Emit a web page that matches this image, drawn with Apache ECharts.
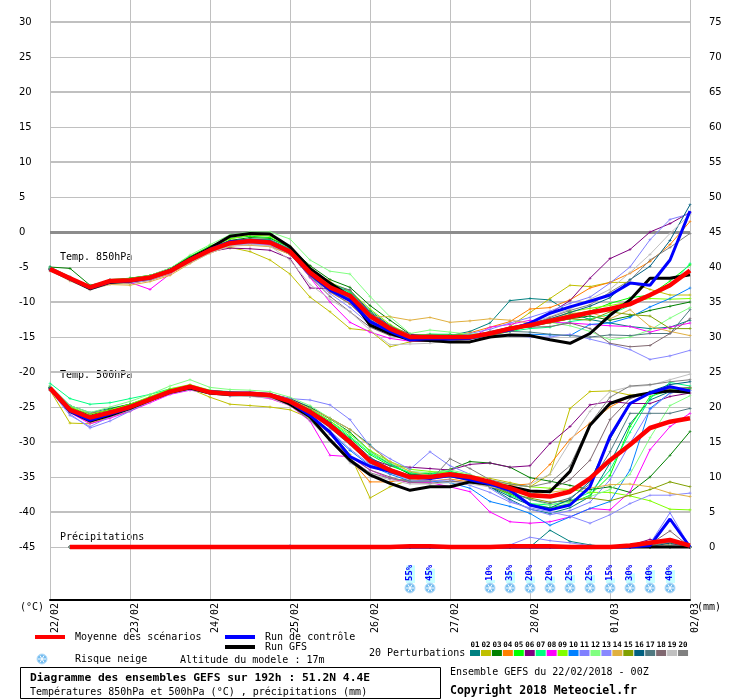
<!DOCTYPE html>
<html>
<head>
<meta charset="utf-8">
<script src="https://cdn.jsdelivr.net/npm/echarts@6.0.0/dist/echarts.min.js"></script>
<style>
  html, body { margin: 0; padding: 0; background: #fff; }
  #chart { width: 740px; height: 700px; }
</style>
</head>
<body>
<div id="chart"></div>
<script>
// time steps (hours from 22/02 00Z)
const hours = [0,6,12,18,24,30,36,42,48,54,60,66,72,78,84,90,96,102,108,114,120,126,132,138,144,150,156,162,168,174,180,186,192];
const dayLabels = ['22/02','23/02','24/02','25/02','26/02','27/02','28/02','01/03','02/03'];
const tempTicks = [-45,-40,-35,-30,-25,-20,-15,-10,-5,0,5,10,15,20,25,30];
const precipTicks = [0,5,10,15,20,25,30,35,40,45,50,55,60,65,70,75];

const memberNames = ['01','02','03','04','05','06','07','08','09','10','11','12','13','14','15','16','17','18','19','20'];
const memberColors = ['#008080','#c0c000','#008000','#ff8000','#00ff00','#800080','#00ff80','#ff00ff','#80ff00','#0080ff',
                      '#8080ff','#80ff80','#8888ff','#e0b040','#80a000','#006080','#507880','#806870','#c0c0c0','#808080'];

// Temp 850 hPa
const t850Mean    = [-5.3,-6.6,-7.9,-7.0,-6.9,-6.5,-5.6,-4.0,-2.6,-1.6,-1.3,-1.5,-2.8,-5.8,-7.9,-9.1,-12.0,-13.8,-15.0,-15.0,-15.0,-15.0,-14.5,-13.8,-13.3,-12.7,-12.1,-11.5,-11.0,-10.3,-9.0,-7.6,-5.5];
const t850Control = [-5.3,-6.7,-8.0,-7.1,-7.0,-6.6,-5.5,-3.9,-2.5,-1.4,-1.2,-1.4,-2.9,-6.0,-8.3,-9.8,-12.8,-14.2,-15.4,-15.2,-15.3,-15.2,-14.5,-14.0,-13.0,-11.6,-10.7,-9.9,-9.0,-7.3,-7.6,-4.0,3.0];
const t850Gfs     = [-5.3,-6.7,-8.1,-7.2,-7.0,-6.5,-5.5,-3.8,-2.3,-0.6,-0.2,-0.3,-2.1,-5.2,-7.3,-9.2,-13.3,-14.5,-15.4,-15.5,-15.7,-15.7,-15.0,-14.7,-14.8,-15.4,-15.9,-14.5,-11.9,-9.7,-6.6,-6.6,-6.1];
const t850Members = [
  [-5.0,-6.4,-7.8,-7.0,-7.2,-6.6,-5.4,-3.8,-2.4,-1.3,-1.0,-1.1,-2.4,-5.2,-7.4,-8.6,-11.2,-13.4,-14.9,-15.0,-14.8,-14.2,-13.0,-9.8,-9.5,-9.7,-11.5,-12.5,-13.0,-13.5,-13.8,-13.6,-12.6],
  [-5.4,-6.9,-8.0,-7.3,-7.4,-6.8,-5.9,-4.4,-2.1,-2.2,-2.8,-4.0,-6.0,-9.3,-11.4,-13.8,-14.1,-16.4,-15.7,-15.4,-15.6,-15.3,-14.9,-13.5,-11.5,-9.5,-7.6,-7.8,-7.2,-7.2,-8.2,-9.0,-9.0],
  [-5.0,-5.2,-7.6,-7.0,-6.6,-6.2,-5.2,-3.5,-2.3,-1.2,-0.8,-0.9,-2.2,-4.8,-6.8,-7.9,-10.5,-12.6,-14.6,-14.8,-14.7,-14.8,-14.3,-13.6,-13.6,-12.9,-12.4,-12.0,-12.6,-12.0,-11.2,-10.6,-10.0],
  [-5.2,-6.5,-8.0,-7.2,-7.3,-6.9,-6.0,-4.3,-3.0,-2.0,-1.8,-2.0,-3.2,-6.2,-8.6,-10.2,-13.0,-14.6,-15.3,-15.1,-14.8,-14.4,-13.6,-12.8,-11.0,-10.8,-9.7,-8.0,-7.2,-5.9,-4.2,-1.8,1.5],
  [-5.2,-6.5,-7.8,-6.8,-6.6,-6.2,-5.3,-3.5,-2.0,-0.9,-0.6,-0.8,-2.2,-5.3,-7.6,-8.8,-11.4,-13.6,-14.8,-14.6,-14.7,-14.7,-14.3,-13.9,-13.2,-12.6,-11.8,-11.3,-10.2,-9.4,-9.0,-7.0,-4.7],
  [-5.4,-6.8,-8.0,-7.2,-7.0,-6.8,-5.8,-4.3,-2.8,-2.3,-2.4,-2.6,-3.8,-8.0,-8.1,-8.3,-11.5,-13.4,-14.6,-14.8,-14.9,-14.9,-14.6,-14.0,-13.0,-11.6,-9.8,-6.6,-3.8,-2.5,0.0,1.2,2.8],
  [-5.1,-6.5,-7.7,-6.9,-6.8,-6.3,-5.4,-3.7,-2.3,-1.3,-1.1,-1.2,-2.5,-5.5,-7.5,-8.6,-11.6,-13.5,-14.8,-14.6,-14.6,-14.9,-14.7,-14.2,-13.8,-13.6,-12.8,-12.4,-11.8,-10.5,-9.2,-7.7,-4.5],
  [-5.3,-6.7,-7.9,-7.1,-7.2,-8.2,-6.0,-4.1,-2.8,-1.8,-1.6,-1.8,-3.0,-6.5,-10.0,-12.9,-14.3,-15.2,-15.6,-15.6,-15.4,-15.2,-13.6,-13.2,-12.6,-12.9,-13.0,-13.2,-13.4,-13.5,-14.3,-13.6,-13.0],
  [-5.2,-6.6,-7.8,-7.0,-6.8,-6.4,-5.4,-3.7,-2.2,-1.0,-0.4,-0.6,-2.0,-5.1,-7.2,-8.4,-11.0,-13.2,-14.8,-14.7,-15.0,-14.8,-14.4,-14.0,-13.4,-12.6,-11.4,-10.9,-10.5,-10.0,-9.5,-9.6,-9.5],
  [-5.4,-6.7,-8.0,-7.2,-7.1,-6.7,-5.7,-4.1,-2.6,-1.6,-1.4,-1.6,-3.0,-6.0,-8.1,-9.5,-12.5,-14.2,-15.3,-15.6,-15.4,-15.2,-15.0,-14.7,-14.6,-14.7,-14.8,-13.2,-13.0,-12.2,-10.7,-9.5,-8.0],
  [-5.3,-6.6,-7.8,-6.8,-7.0,-6.4,-5.6,-4.0,-2.7,-1.8,-1.6,-1.6,-2.9,-5.9,-8.0,-9.3,-12.3,-14.2,-15.4,-15.3,-15.2,-14.5,-13.9,-13.0,-12.2,-11.3,-10.2,-9.3,-7.3,-5.0,-1.1,1.8,2.6],
  [-5.2,-6.5,-7.7,-6.9,-6.7,-6.2,-5.2,-3.3,-1.8,-0.4,0.0,0.0,-1.0,-4.0,-5.6,-6.0,-9.2,-12.1,-14.5,-14.0,-14.3,-14.6,-14.4,-13.6,-13.1,-12.9,-13.4,-14.2,-15.4,-15.0,-14.0,-12.3,-10.8],
  [-5.5,-6.9,-8.1,-7.2,-7.3,-6.9,-5.9,-4.2,-2.8,-1.9,-1.7,-1.9,-3.2,-6.4,-8.8,-10.8,-13.2,-14.6,-15.3,-15.2,-15.0,-14.8,-14.6,-14.8,-15.0,-15.0,-14.6,-15.3,-16.0,-16.8,-18.2,-17.7,-16.9],
  [-5.5,-7.0,-8.2,-7.5,-7.6,-7.1,-6.2,-4.5,-3.0,-2.0,-1.9,-2.1,-3.2,-5.5,-7.0,-9.4,-12.1,-12.1,-12.6,-12.2,-12.9,-12.7,-12.4,-12.6,-13.0,-12.4,-11.6,-11.5,-12.4,-11.1,-13.5,-14.2,-14.8],
  [-5.4,-6.8,-8.0,-7.2,-7.0,-6.7,-5.7,-4.0,-2.5,-1.5,-1.3,-1.4,-2.8,-5.9,-8.2,-9.6,-12.6,-14.4,-15.4,-15.6,-15.4,-15.2,-14.8,-14.2,-13.4,-13.0,-12.4,-12.6,-11.4,-11.8,-12.0,-13.8,-13.8],
  [-5.3,-6.6,-7.9,-7.0,-6.9,-6.5,-5.5,-3.8,-2.4,-1.5,-1.2,-1.3,-2.6,-5.6,-7.7,-9.0,-12.2,-14.0,-15.2,-15.1,-15.1,-15.0,-14.6,-13.6,-13.0,-12.4,-11.5,-10.6,-9.4,-6.8,-4.9,-1.2,3.9],
  [-5.2,-6.6,-7.9,-7.1,-7.0,-6.6,-5.6,-3.9,-2.4,-1.3,-1.0,-1.2,-2.5,-5.5,-7.4,-8.3,-11.6,-13.5,-14.9,-14.7,-14.9,-14.8,-14.5,-14.2,-14.3,-14.6,-14.8,-15.0,-14.7,-14.8,-14.5,-14.5,-11.1],
  [-5.4,-6.7,-8.0,-7.1,-7.0,-6.6,-5.6,-4.0,-2.6,-1.7,-1.5,-1.7,-3.1,-6.4,-9.2,-11.4,-13.6,-14.8,-15.2,-15.3,-15.1,-15.0,-14.2,-13.6,-13.6,-13.5,-13.0,-13.8,-15.9,-16.4,-16.2,-14.5,-12.4],
  [-5.6,-6.9,-8.3,-7.4,-7.2,-6.8,-5.9,-4.4,-3.0,-2.0,-1.8,-2.0,-4.0,-7.5,-9.6,-11.4,-14.0,-16.1,-16.0,-15.9,-15.5,-15.2,-14.6,-13.8,-13.0,-12.1,-11.0,-9.6,-8.2,-5.8,-3.2,-0.2,2.5],
  [-5.4,-6.7,-8.0,-7.2,-7.1,-6.6,-5.6,-4.0,-2.5,-1.6,-1.4,-1.6,-3.0,-6.3,-8.5,-10.3,-13.0,-14.6,-15.2,-15.0,-15.0,-14.9,-14.5,-14.1,-13.4,-12.2,-11.2,-10.4,-8.6,-6.9,-4.0,-2.2,-0.2]
];

// Temp 500 hPa
const t500Mean    = [-22.3,-25.4,-26.5,-25.8,-25.0,-23.9,-22.8,-22.1,-22.9,-23.1,-23.1,-23.3,-24.2,-25.7,-27.6,-30.0,-32.7,-34.0,-35.0,-35.0,-34.6,-35.0,-35.7,-36.6,-37.6,-37.8,-37.1,-35.2,-32.6,-30.4,-28.0,-27.1,-26.6];
const t500Control = [-22.3,-25.6,-26.9,-26.0,-25.1,-23.9,-22.8,-22.2,-22.8,-23.0,-23.0,-23.2,-24.3,-26.2,-28.6,-32.1,-33.5,-34.2,-35.0,-35.2,-34.8,-35.4,-36.0,-36.9,-39.0,-39.7,-39.0,-36.4,-29.2,-24.5,-23.0,-22.1,-22.7];
const t500Gfs     = [-22.3,-25.6,-27.0,-26.2,-25.2,-24.0,-22.9,-22.3,-23.0,-23.2,-23.2,-23.3,-24.6,-26.4,-29.7,-32.6,-34.7,-35.9,-36.9,-36.4,-36.4,-35.7,-36.0,-36.4,-37.0,-37.1,-34.2,-27.6,-24.5,-23.5,-23.0,-22.7,-22.9];
const t500Members = [
  [-22.0,-24.8,-25.8,-25.2,-24.6,-23.6,-22.5,-22.0,-23.0,-23.4,-23.4,-23.2,-23.8,-25.0,-26.6,-28.2,-30.4,-33.0,-34.6,-34.8,-34.4,-35.2,-36.4,-38.2,-39.6,-40.2,-39.4,-37.8,-33.0,-27.4,-24.0,-22.8,-22.4],
  [-22.6,-27.3,-27.4,-26.4,-25.6,-24.2,-23.0,-22.4,-23.6,-24.6,-24.8,-25.0,-25.4,-26.6,-28.4,-31.8,-38.0,-36.4,-35.4,-35.0,-34.6,-34.8,-35.2,-35.8,-36.4,-34.6,-25.2,-22.8,-22.7,-23.3,-23.0,-22.5,-22.2],
  [-22.2,-25.0,-26.2,-25.3,-24.6,-23.7,-22.6,-22.1,-22.9,-23.3,-23.4,-23.2,-23.9,-25.1,-26.7,-28.6,-31.3,-33.2,-34.6,-34.5,-33.9,-32.8,-33.0,-33.6,-35.1,-35.6,-36.2,-36.8,-36.4,-37.2,-35.0,-31.9,-28.5],
  [-22.4,-25.8,-27.2,-26.3,-25.2,-24.1,-22.8,-22.3,-22.9,-23.2,-23.3,-23.6,-24.6,-26.2,-28.7,-32.5,-35.7,-35.7,-35.2,-35.6,-35.3,-35.7,-36.0,-36.2,-36.0,-33.2,-29.6,-27.3,-25.0,-23.5,-23.1,-22.7,-22.5],
  [-22.2,-25.2,-26.3,-25.6,-24.8,-23.6,-22.6,-22.0,-22.8,-23.0,-23.0,-23.2,-24.0,-25.4,-27.2,-29.4,-31.8,-33.4,-34.4,-34.6,-34.2,-34.8,-36.0,-37.4,-38.8,-39.4,-38.8,-37.6,-34.8,-27.8,-23.5,-22.6,-22.4],
  [-22.3,-25.4,-25.9,-25.5,-24.8,-23.7,-22.7,-22.2,-23.0,-23.4,-23.3,-23.1,-23.8,-25.2,-27.2,-29.8,-32.4,-33.4,-33.6,-33.8,-34.0,-33.2,-33.0,-33.6,-33.4,-30.2,-27.8,-24.7,-24.2,-24.5,-24.5,-23.5,-23.0],
  [-21.6,-23.8,-24.6,-24.4,-23.8,-23.2,-22.4,-22.0,-22.6,-22.8,-23.0,-23.2,-24.0,-25.2,-27.0,-29.2,-31.6,-33.2,-34.4,-34.6,-34.2,-35.0,-36.2,-37.6,-38.8,-39.0,-38.4,-37.2,-34.0,-28.6,-23.8,-21.5,-22.0],
  [-22.4,-25.8,-27.4,-26.6,-25.6,-24.4,-23.2,-22.6,-23.0,-23.2,-23.4,-23.8,-24.8,-27.0,-31.9,-32.1,-34.0,-35.2,-35.8,-35.8,-36.4,-37.1,-40.0,-41.4,-41.6,-41.4,-40.7,-39.5,-39.7,-37.1,-31.1,-27.8,-25.9],
  [-22.1,-25.0,-26.0,-25.4,-24.6,-23.5,-22.4,-21.8,-22.6,-22.9,-23.0,-23.1,-23.9,-25.3,-27.0,-28.9,-31.2,-32.8,-33.9,-34.2,-34.4,-35.0,-35.6,-36.0,-36.4,-36.6,-36.8,-37.2,-37.2,-37.7,-38.4,-39.6,-39.7],
  [-22.3,-25.6,-26.9,-26.1,-25.2,-24.0,-22.9,-22.2,-22.9,-23.1,-23.1,-23.3,-24.4,-26.2,-28.6,-31.2,-33.4,-34.6,-35.6,-35.6,-35.8,-36.6,-38.5,-39.2,-40.2,-41.9,-40.7,-39.5,-38.5,-34.0,-25.2,-23.0,-22.6],
  [-22.5,-26.0,-28.0,-27.0,-25.6,-24.2,-23.0,-22.4,-23.0,-23.1,-23.2,-23.2,-23.8,-24.0,-24.7,-26.8,-30.6,-32.4,-33.9,-31.4,-33.4,-34.6,-36.6,-38.4,-39.6,-40.4,-39.8,-38.6,-35.4,-30.2,-25.4,-23.0,-22.6],
  [-22.0,-24.8,-25.8,-25.0,-24.2,-23.2,-22.0,-21.1,-22.2,-22.5,-22.6,-22.8,-23.6,-24.8,-26.6,-28.8,-31.4,-33.0,-34.2,-34.4,-34.0,-34.6,-35.8,-37.0,-38.2,-39.0,-38.6,-37.8,-36.8,-34.6,-29.4,-24.8,-23.4],
  [-22.6,-26.2,-27.8,-26.4,-25.4,-24.2,-23.1,-22.5,-23.1,-23.3,-23.3,-23.5,-24.6,-26.4,-28.4,-31.0,-33.2,-34.4,-35.4,-35.6,-35.4,-36.2,-37.2,-38.6,-39.4,-40.0,-40.6,-41.6,-40.4,-38.8,-37.6,-37.6,-37.3],
  [-22.4,-25.6,-26.8,-26.0,-25.2,-24.0,-22.9,-22.4,-22.9,-23.1,-23.2,-23.3,-24.0,-25.2,-26.6,-28.2,-30.6,-32.8,-34.2,-34.8,-34.9,-35.6,-36.4,-37.0,-37.4,-37.2,-36.8,-36.6,-36.1,-36.0,-36.4,-37.3,-37.8],
  [-22.3,-25.4,-26.6,-25.9,-25.0,-23.9,-22.8,-22.2,-23.0,-23.2,-23.3,-23.4,-24.2,-25.8,-27.8,-30.2,-32.8,-34.2,-35.2,-35.0,-34.8,-35.4,-36.4,-37.4,-38.0,-38.6,-38.4,-38.0,-38.4,-37.6,-36.8,-35.7,-36.4],
  [-22.2,-25.2,-26.4,-25.6,-24.8,-23.8,-22.7,-22.1,-22.8,-23.0,-23.1,-23.3,-24.0,-25.4,-27.3,-29.6,-32.2,-33.8,-34.8,-34.9,-34.6,-35.2,-36.4,-37.8,-39.0,-39.4,-38.2,-35.6,-29.6,-24.6,-22.8,-21.8,-21.4],
  [-22.3,-25.4,-26.6,-25.9,-25.1,-24.0,-22.9,-22.3,-22.9,-23.1,-23.2,-23.3,-24.3,-25.9,-28.0,-30.4,-33.0,-34.4,-35.2,-35.2,-35.0,-35.4,-36.2,-37.2,-38.2,-38.8,-38.0,-36.0,-31.4,-25.9,-25.9,-25.9,-25.2],
  [-22.4,-25.6,-26.8,-26.1,-25.3,-24.1,-22.9,-22.3,-23.0,-23.3,-23.4,-23.5,-24.5,-26.4,-28.9,-32.0,-34.0,-35.0,-35.8,-35.9,-35.6,-35.8,-36.4,-37.0,-37.4,-36.8,-35.4,-32.6,-26.8,-23.8,-22.9,-22.4,-22.2],
  [-22.6,-25.8,-27.0,-26.3,-25.4,-24.2,-23.0,-22.5,-23.2,-23.4,-23.5,-23.7,-24.8,-26.8,-29.8,-33.0,-34.6,-35.4,-36.0,-36.0,-35.8,-36.0,-36.4,-36.8,-36.0,-34.6,-30.0,-25.6,-22.8,-22.1,-21.9,-21.1,-20.3],
  [-22.5,-25.8,-26.9,-26.2,-25.3,-24.1,-22.9,-22.4,-23.1,-23.3,-23.4,-23.6,-24.7,-26.9,-29.8,-32.4,-34.4,-35.2,-35.6,-35.6,-32.4,-33.8,-35.4,-36.0,-36.4,-35.8,-33.4,-27.4,-23.6,-22.0,-21.8,-21.4,-21.1]
];

// Precipitation (mm), no value at 0h
const prMean    = [null,0,0,0,0,0,0,0,0,0, 0,0,0,0,0,0,0,0,0.1,0.1, 0,0,0,0.1,0.1,0.1,0,0,0,0.2, 0.6,1.0,0.2];
const prControl = [null,0,0,0,0,0,0,0,0,0, 0,0,0,0,0,0,0,0,0,0, 0,0,0,0,0,0,0,0,0,0, 0.2,4.0,0];
const prGfs     = [null,0,0,0,0,0,0,0,0,0, 0,0,0,0,0,0,0,0,0,0, 0,0,0,0,0,0,0,0,0,0, 0,0,0];
const prMembers = [
  [null,0,0,0,0,0,0,0,0,0, 0,0,0,0,0,0,0,0,0,0, 0,0,0,0,0,2.4,0.8,0.3,0,0, 0,0.3,0],
  [null,0,0,0,0,0,0,0,0,0, 0,0,0,0,0,0,0,0,0,0, 0,0,0,0,0,0,0,0,0,0, 0,0.2,0],
  [null,0,0,0,0,0,0,0,0,0, 0,0,0,0,0,0,0,0,0,0, 0,0,0,0,0,0,0,0,0,0, 0.3,0.5,0],
  [null,0,0,0,0,0,0,0,0,0, 0,0,0,0,0,0,0,0,0,0, 0,0,0,0,0,0,0,0,0,0, 0,0.4,0],
  [null,0,0,0,0,0,0,0,0,0, 0,0,0,0,0,0,0,0,0,0, 0,0,0,0,0,0,0,0,0,0, 0.2,0,0],
  [null,0,0,0,0,0,0,0,0,0, 0,0,0,0,0,0,0,0,0,0, 0,0,0,0,0,0,0,0,0,0.2, 1.1,0.4,0],
  [null,0,0,0,0,0,0,0,0,0, 0,0,0,0,0,0,0,0,0,0, 0,0,0,0,0,0,0,0,0,0, 0,0.3,0],
  [null,0,0,0,0,0,0,0,0,0, 0,0,0,0,0,0,0,0,0,0, 0,0,0,0,0,0,0,0,0,0, 0,0,0],
  [null,0,0,0,0,0,0,0,0,0, 0,0,0,0,0,0,0,0,0,0, 0,0,0,0,0,0,0,0,0,0, 0,0.2,0],
  [null,0,0,0,0,0,0,0,0,0, 0,0,0.2,0,0,0,0,0,0,0, 0,0,0,0,0,0,0,0,0,0, 0,0,0],
  [null,0,0,0,0,0,0,0,0,0, 0,0,0,0,0,0,0,0,0,0, 0,0,0,0,0,0,0,0,0,0, 0.5,4.9,0],
  [null,0,0,0,0,0,0,0,0,0, 0,0,0,0,0,0,0,0,0,0, 0,0,0,0,0,0,0,0,0,0, 0,0.2,0],
  [null,0,0,0,0,0,0,0,0,0, 0,0,0,0,0,0,0,0,0,0, 0,0,0,0.3,1.4,0.9,0.6,0.2,0,0, 0,0,0],
  [null,0,0,0,0,0,0,0,0,0, 0,0,0,0,0,0,0,0,0,0, 0,0,0,0,0,0,0,0,0,0, 0.3,0,0],
  [null,0,0,0,0,0,0,0,0,0, 0,0,0,0,0,0,0,0,0,0, 0,0,0,0,0,0,0,0,0,0, 0,0,0],
  [null,0,0,0,0,0,0,0,0,0, 0,0,0,0,0,0,0,0,0,0, 0,0,0,0,0,0,0,0,0,0, 0,0.6,0],
  [null,0,0,0,0,0,0,0,0,0, 0,0,0,0,0,0,0,0,0,0, 0,0,0,0,0,0,0,0,0,0, 0,0.3,0],
  [null,0,0,0,0,0,0,0,0,0, 0,0,0,0,0,0,0,0,0,0, 0,0,0,0,0,0,0,0,0,0, 0.4,2.3,0],
  [null,0,0,0,0,0,0,0,0,0, 0,0,0,0,0,0,0,0,0,0, 0,0,0,0,0,0,0,0,0,0, 0,0.3,0],
  [null,0,0,0,0,0,0,0,0,0, 0,0,0,0,0,0,0,0,0,0, 0,0,0,0,0,0,0,0,0,0, 0.2,0.7,0]
];

// snow risk (hour, probability %)
const snowHours = [108,114,132,138,144,150,156,162,168,174,180,186];
const snowPct   = [55,45,10,35,20,20,25,25,15,30,40,40];

// axis extents: 7px per degree, grid from y=0 to y=600
const TEMP_MIN = -52.571, TEMP_MAX = 33.143;
const PR_MIN = TEMP_MIN + 45, PR_MAX = TEMP_MAX + 45;
const MONO = '"DejaVu Sans Mono", monospace';
const PLUS = 'path://M2,0H3V2H5V3H3V5H2V3H0V2H2Z';

function pairs(vals) {
  return vals.map((v, i) => [hours[i], v]).filter(p => p[1] !== null);
}

function thinLine(name, vals, color, axis) {
  return {
    name: name, type: 'line', yAxisIndex: axis, data: pairs(vals),
    symbol: PLUS, symbolSize: 3, showSymbol: true,
    lineStyle: { width: 1, color: color }, itemStyle: { color: color },
    z: 3, silent: true
  };
}

function thickLine(name, vals, color, width, axis, z) {
  return {
    name: name, type: 'line', yAxisIndex: axis, data: pairs(vals),
    showSymbol: false, lineStyle: { width: width, color: color },
    itemStyle: { color: color }, z: z, silent: true
  };
}

function flake(cx, cy) {
  const kids = [{ type: 'circle', shape: { cx: cx, cy: cy, r: 5 }, style: { fill: '#74bcef', stroke: '#b8defa', lineWidth: 1 } }];
  [0, Math.PI / 3, 2 * Math.PI / 3].forEach(a => {
    kids.push({ type: 'line', shape: { x1: cx + 4 * Math.cos(a), y1: cy + 4 * Math.sin(a), x2: cx - 4 * Math.cos(a), y2: cy - 4 * Math.sin(a) },
                style: { stroke: '#ffffff', lineWidth: 1 } });
  });
  return kids;
}

function txt(x, y, s, font, color) {
  return { type: 'text', x: x, y: y, silent: true,
           style: { text: s, font: font || ('10px ' + MONO), fill: color || '#000',
                    textAlign: 'left', align: 'left', textVerticalAlign: 'middle', verticalAlign: 'middle' } };
}

const series = [];

// grid lines
series.push({
  type: 'custom', silent: true, z: 1, yAxisIndex: 0,
  data: tempTicks.map(v => [0, v]),
  encode: { x: 0, y: 1 },
  renderItem: function (params, api) {
    const v = api.value(1);
    const a = api.coord([hours[0], v]);
    const b = api.coord([hours[hours.length - 1], v]);
    let color = '#c0c0c0', w = (v % 10 === 0) ? 2 : 1;
    if (v === 0) { color = '#8c8c8c'; w = 3; }
    const y = Math.round(a[1]) + (w % 2 ? 0.5 : 0);
    return { type: 'line', shape: { x1: a[0], y1: y, x2: b[0], y2: y }, style: { stroke: color, lineWidth: w } };
  }
});

// perturbations
for (let k = 0; k < 20; k++) {
  series.push(thinLine('P' + memberNames[k], t850Members[k], memberColors[k], 0));
  series.push(thinLine('P' + memberNames[k], t500Members[k], memberColors[k], 0));
  series.push(thinLine('P' + memberNames[k], prMembers[k], memberColors[k], 1));
}
series.push(thickLine('Run GFS', t850Gfs, '#000000', 3, 0, 4));
series.push(thickLine('Run GFS', t500Gfs, '#000000', 3, 0, 4));
series.push(thickLine('Run GFS', prGfs, '#000000', 3, 1, 4));
series.push(thickLine('Run de contrôle', t850Control, '#0000ff', 3, 0, 5));
series.push(thickLine('Run de contrôle', t500Control, '#0000ff', 3, 0, 5));
series.push(thickLine('Run de contrôle', prControl, '#0000ff', 3, 1, 5));
series.push(thickLine('Moyenne des scénarios', t850Mean, '#ff0000', 4.5, 0, 6));
series.push(thickLine('Moyenne des scénarios', t500Mean, '#ff0000', 4.5, 0, 6));
series.push(thickLine('Moyenne des scénarios', prMean, '#ff0000', 4.5, 1, 6));

// snow risk markers
series.push({
  type: 'custom', silent: true, z: 7, yAxisIndex: 0,
  data: snowHours.map((h, k) => [h, snowPct[k]]),
  encode: { x: 0, y: 1 },
  renderItem: function (params, api) {
    const p = api.coord([api.value(0), TEMP_MIN]);
    const x = p[0], yb = p[1];
    const pct = api.value(1);
    const barH = pct * 0.32;
    const kids = [
      { type: 'rect', shape: { x: x - 4, y: yb - 17 - barH, width: 9, height: barH }, style: { fill: '#c8ffff' } },
      { type: 'text', x: x, y: yb - 19, rotation: Math.PI / 2,
        style: { text: pct + '%', font: 'bold 9px ' + MONO, fill: '#0000ff',
                 textAlign: 'left', align: 'left', textVerticalAlign: 'middle', verticalAlign: 'middle' } }
    ].concat(flake(x, yb - 12));
    return { type: 'group', children: kids };
  }
});

// legend and captions
const graphic = [
  txt(60, 257, 'Temp. 850hPa'),
  txt(60, 375, 'Temp. 500hPa'),
  txt(60, 537, 'Précipitations'),
  txt(20, 607, '(°C)'),
  txt(697, 607, '(mm)'),
  { type: 'rect', shape: { x: 35, y: 635, width: 30, height: 4 }, style: { fill: '#ff0000' } },
  txt(75, 637, 'Moyenne des scénarios'),
  { type: 'rect', shape: { x: 225, y: 635, width: 30, height: 4 }, style: { fill: '#0000ff' } },
  txt(265, 637, 'Run de contrôle'),
  { type: 'rect', shape: { x: 225, y: 645, width: 30, height: 4 }, style: { fill: '#000000' } },
  txt(265, 647, 'Run GFS'),
  { type: 'group', children: flake(42, 659) },
  txt(75, 659, 'Risque neige'),
  txt(180, 660, 'Altitude du modele : 17m'),
  { type: 'rect', shape: { x: 20.5, y: 667.5, width: 420, height: 31 }, style: { fill: '#fff', stroke: '#000', lineWidth: 1 } },
  txt(30, 678, 'Diagramme des ensembles GEFS sur 192h : 51.2N 4.4E', 'bold 11.3px ' + MONO),
  txt(30, 692, 'Températures 850hPa et 500hPa (°C) , précipitations (mm)'),
  txt(369, 653, '20 Perturbations'),
  txt(450, 672, 'Ensemble GEFS du 22/02/2018 - 00Z'),
  txt(450, 691, 'Copyright 2018 Meteociel.fr', 'bold 11.5px ' + MONO)
];
memberColors.forEach((c, k) => {
  const x = 470 + k * 10.95;
  graphic.push({ type: 'rect', shape: { x: x, y: 650, width: 10, height: 6 }, style: { fill: c } });
  graphic.push({ type: 'text', x: x + 5, y: 645, silent: true,
                 style: { text: memberNames[k], font: 'bold 7.5px ' + MONO, fill: '#000',
                          textAlign: 'center', align: 'center', textVerticalAlign: 'middle', verticalAlign: 'middle' } });
});

const chart = echarts.init(document.getElementById('chart'), null, { renderer: 'canvas' });
chart.setOption({
  animation: false,
  backgroundColor: '#ffffff',
  grid: { left: 50, right: 50, top: 0, bottom: 100 },
  xAxis: {
    type: 'value', min: 0, max: 192, interval: 24,
    axisLine: { show: true, onZero: false, lineStyle: { color: '#000', width: 2 } },
    axisTick: { show: false },
    splitLine: { show: true, lineStyle: { color: '#c0c0c0', width: 1 } },
    axisLabel: {
      rotate: 90, margin: 3, verticalAlign: 'top',
      fontFamily: 'DejaVu Sans Mono', fontSize: 10, color: '#000',
      formatter: v => dayLabels[v / 24]
    }
  },
  yAxis: [
    {
      type: 'value', min: TEMP_MIN, max: TEMP_MAX,
      axisLine: { show: true, lineStyle: { color: '#c0c0c0' } },
      axisTick: { show: false }, splitLine: { show: false },
      axisLabel: { customValues: tempTicks, align: 'left', margin: 31, fontFamily: 'DejaVu Sans', fontSize: 10, color: '#000' }
    },
    {
      type: 'value', min: PR_MIN, max: PR_MAX, position: 'right',
      axisLine: { show: true, lineStyle: { color: '#c0c0c0' } },
      axisTick: { show: false }, splitLine: { show: false },
      axisLabel: { customValues: precipTicks, align: 'left', margin: 19, fontFamily: 'DejaVu Sans', fontSize: 10, color: '#000' }
    }
  ],
  series: series,
  graphic: graphic
});
</script>
</body>
</html>
